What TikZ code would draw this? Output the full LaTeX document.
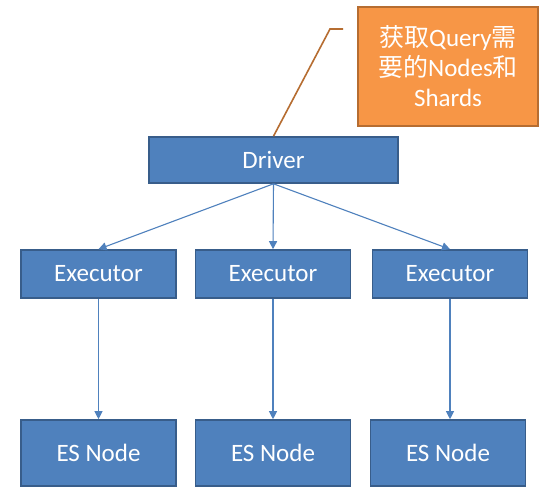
\documentclass[tikz,border=0pt]{standalone}
\usepackage{fontspec}
\setmainfont{Carlito}
\newfontfamily\cjk{Noto Sans CJK SC}
\usepackage{xcolor}
\usetikzlibrary{arrows.meta,positioning}
\definecolor{boxblue}{HTML}{4F81BD}
\definecolor{boxline}{HTML}{385D8A}
\definecolor{noteorange}{HTML}{F79646}
\definecolor{noteline}{HTML}{B66D31}
\tikzset{
  blk/.style    ={rectangle,draw=boxline,fill=boxblue,line width=1.6pt,text=white,
                  font=\fontsize{25}{30}\selectfont,inner sep=0pt},
  drvbox/.style ={blk,minimum width=249pt,minimum height=46pt},
  exbox/.style  ={blk,minimum width=155pt,minimum height=48pt},
  esbox/.style  ={blk,minimum width=155pt,minimum height=66pt},
  note/.style   ={rectangle,draw=noteline,fill=noteorange,line width=1.4pt,text=white,
                  minimum width=180pt,minimum height=119pt,align=center,
                  font=\fontsize{25}{30}\selectfont},
  flow/.style   ={boxblue,line width=1.1pt,-{Triangle[length=8pt,width=8pt]}},
  lead/.style   ={noteline,line width=1.6pt},
}
\begin{document}
\begin{tikzpicture}[x=1pt,y=-1pt]
  \useasboundingbox[fill=white] (0,0) rectangle (547,488);
  % top
  \node[drvbox] (drv) at (273.5,160) {Driver};
  \node[note] (note) at (448,66.5)
    {{\cjk 获取}Query{\cjk 需}\\{\cjk 要的}Nodes{\cjk 和}\\Shards};
  \coordinate (k1) at (343,29);
  \coordinate (k2) at (330,29);
  \draw[lead] (k1) -- (k2) -- (drv.north);
  % executors
  \node[exbox] (ex1) at (98.5,274) {Executor};
  \node[exbox] (ex2) at (273,274)  {Executor};
  \node[exbox] (ex3) at (450,274)  {Executor};
  % es nodes
  \node[esbox] (es1) at (98.5,453) {ES Node};
  \node[esbox] (es2) at (273,453)  {ES Node};
  \node[esbox] (es3) at (448,453)  {ES Node};
  \draw[flow] (drv.south) -- (ex1.north);
  \draw[flow] (drv.south) -- (ex2.north);
  \draw[flow] (drv.south) -- (ex3.north);
  \draw[flow] (ex1) -- (es1);
  \draw[flow] (ex2) -- (es2);
  \draw[flow] (ex3.south) -- (ex3.south |- es3.north);
\end{tikzpicture}
\end{document}
